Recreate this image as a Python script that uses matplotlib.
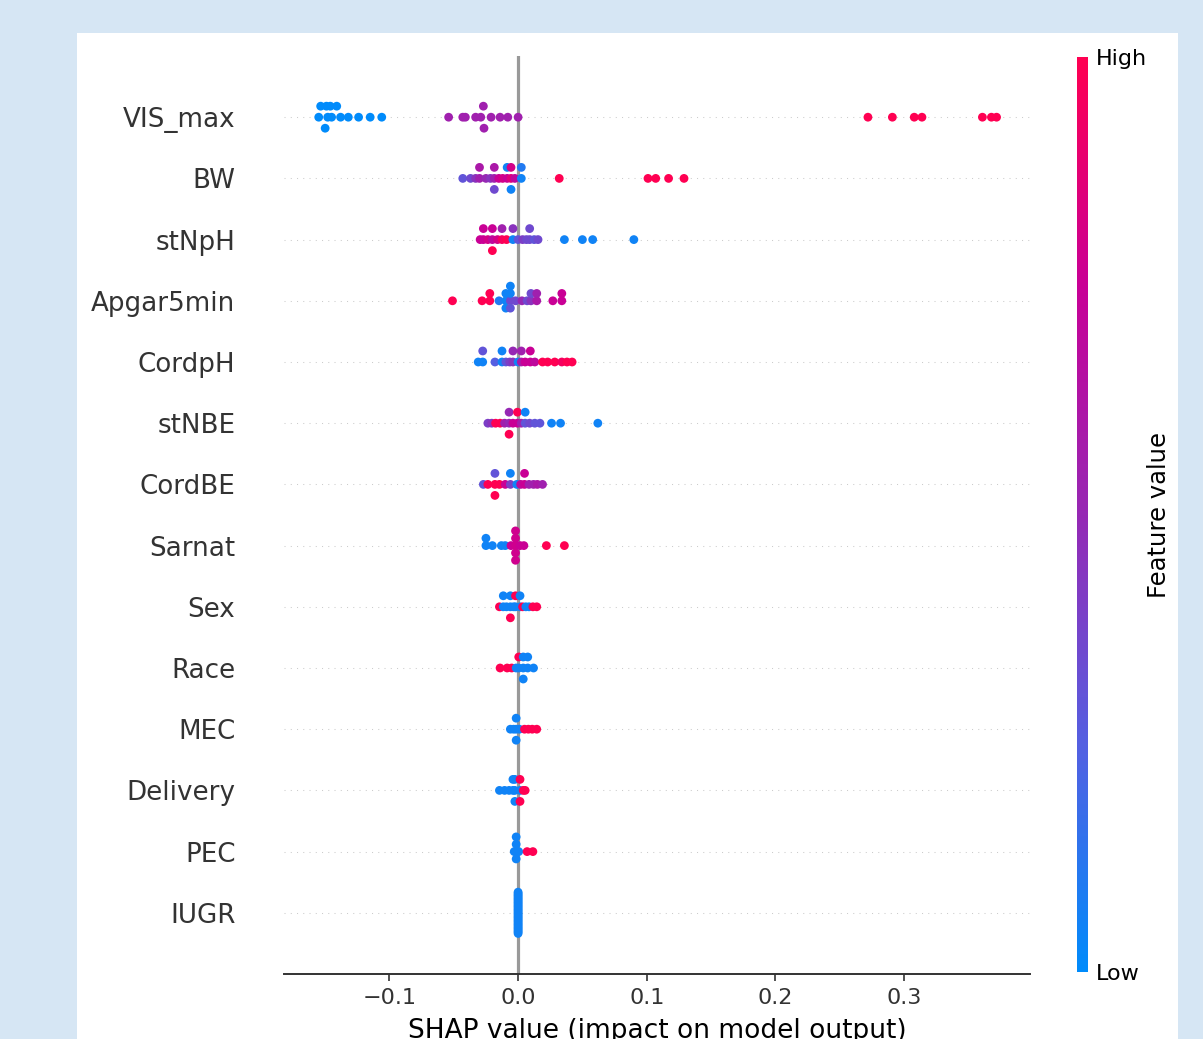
import numpy as np
import matplotlib
matplotlib.use("Agg")
import matplotlib.pyplot as plt
from matplotlib.colors import LinearSegmentedColormap, Normalize
from matplotlib.cm import ScalarMappable
from matplotlib.patches import Rectangle

# feature order, top to bottom
features = ["VIS_max", "BW", "stNpH", "Apgar5min", "CordpH", "stNBE", "CordBE",
            "Sarnat", "Sex", "Race", "MEC", "Delivery", "PEC", "IUGR"]

# SHAP values per sample and the (normalised) feature value used for colour
vis_max_shap = [-0.155, -0.1535, -0.148, -0.149, -0.150, -0.145, -0.146, -0.138, -0.141,
                -0.132, -0.124, -0.115, -0.106,
                -0.054, -0.043, -0.041, -0.033, -0.029, -0.027, -0.0265, -0.021, -0.014,
                -0.008, 0.0,
                0.272, 0.291, 0.308, 0.314, 0.361, 0.368, 0.372]
vis_max_val = [0.0] * 13 + [0.55] * 11 + [1.0] * 7

bw_shap = [-0.043, -0.037, -0.033, -0.030, -0.030, -0.025, -0.0215, -0.0185, -0.0185,
           -0.0185, -0.015, -0.012, -0.0085, -0.0085, -0.0055, -0.0055, -0.0055, -0.0025,
           0.0025, 0.0025, 0.032, 0.101, 0.107, 0.117, 0.129]
bw_val = [0.3, 0.35, 0.45, 0.55, 0.6, 0.5, 0.45, 0.55, 0.6,
          0.35, 0.75, 0.8, 0.75, 0.05, 0.85, 0.8, 0.05, 0.7,
          0.05, 0.1, 1.0, 1.0, 1.0, 1.0, 1.0]

stnph_shap = [-0.0295, -0.027, -0.027, -0.0235, -0.020, -0.020, -0.020, -0.016, -0.0125,
              -0.0125, -0.009, -0.004, -0.004, 0.0, 0.0035, 0.0065, 0.009, 0.009, 0.0125,
              0.0155, 0.036, 0.050, 0.058, 0.090]
stnph_val = [0.75, 0.75, 0.75, 0.8, 0.7, 0.75, 1.0, 0.8, 0.95,
             0.55, 1.0, 0.05, 0.45, 0.3, 0.4, 0.35, 0.35, 0.35, 0.3,
             0.35, 0.05, 0.05, 0.05, 0.05]

apgar_shap = [-0.051, -0.028, -0.022, -0.022, -0.0148, -0.0095, -0.0095, -0.0095, -0.006,
              -0.006, -0.006, -0.006, -0.002, 0.003, 0.007, 0.010, 0.010, 0.0145, 0.0145,
              0.027, 0.034, 0.034]
apgar_val = [1.0, 1.0, 1.0, 1.0, 0.1, 0.05, 0.05, 0.05, 0.35,
             0.05, 0.3, 0.05, 0.35, 0.5, 0.35, 0.45, 0.35, 0.6, 0.55,
             0.75, 0.75, 0.75]

cordph_shap = [-0.031, -0.0275, -0.0275, -0.018, -0.0125, -0.0125, -0.0095, -0.0065, -0.004,
               -0.004, 0.0, 0.0025, 0.0025, 0.0055, 0.0095, 0.0095, 0.013,
               0.019, 0.023, 0.0285, 0.034, 0.038, 0.042]
cordph_val = [0.05, 0.05, 0.3, 0.25, 0.05, 0.05, 0.3, 0.4, 0.45,
              0.5, 0.05, 0.6, 0.55, 0.75, 0.75, 0.75, 0.7,
              1.0, 1.0, 1.0, 0.95, 1.0, 1.0]

stnbe_shap = [-0.0235, -0.0205, -0.0175, -0.014, -0.0105, -0.007, -0.007, -0.007, -0.004,
              -0.0005, -0.0005, 0.0025, 0.0055, 0.0055, 0.009, 0.013, 0.017,
              0.026, 0.033, 0.062]
stnbe_val = [0.4, 0.45, 1.0, 1.0, 0.55, 0.5, 0.5, 1.0, 0.75,
             0.75, 1.0, 0.55, 0.3, 0.05, 0.35, 0.3, 0.3,
             0.05, 0.05, 0.05]

cordbe_shap = [-0.027, -0.0235, -0.018, -0.018, -0.018, -0.0145, -0.010, -0.006, -0.006,
               -0.001, 0.002, 0.005, 0.005, 0.0085, 0.012, 0.015, 0.019]
cordbe_val = [0.3, 1.0, 1.0, 0.3, 1.0, 1.0, 0.75, 0.4, 0.05,
              0.05, 0.7, 0.75, 0.75, 0.55, 0.55, 0.6, 0.55]

sarnat_shap = [-0.025, -0.025, -0.020, -0.013, -0.010, -0.0055, -0.002, -0.002, -0.002,
               -0.002, -0.002, 0.0015, 0.0045, 0.022, 0.036]
sarnat_val = [0.05, 0.05, 0.05, 0.05, 0.05, 0.75, 0.78, 0.78, 0.78,
              0.78, 0.78, 0.75, 0.75, 1.0, 1.0]

sex_shap = [-0.0145, -0.0115, -0.0115, -0.009, -0.006, -0.006, -0.006, -0.0035, -0.002,
            -0.002, 0.0015, 0.0015, 0.0035, 0.006, 0.0085, 0.0115, 0.0145]
sex_val = [1.0, 0.05, 0.05, 0.05, 0.05, 0.05, 1.0, 0.05, 0.05,
           1.0, 0.05, 0.05, 1.0, 0.05, 0.05, 1.0, 1.0]

race_shap = [-0.014, -0.0085, -0.005, -0.0015, 0.0005, 0.0005, 0.004, 0.004, 0.004,
             0.0075, 0.0075, 0.012]
race_val = [1.0, 1.0, 1.0, 0.05, 0.05, 1.0, 0.05, 0.05, 0.05,
            0.05, 0.05, 0.05]

mec_shap = [-0.006, -0.0035, -0.0015, -0.0015, -0.0015, 0.001, 0.005, 0.008, 0.011, 0.0145]
mec_val = [0.05, 0.05, 0.05, 0.05, 0.05, 0.05, 1.0, 1.0, 1.0, 1.0]

delivery_shap = [-0.0145, -0.0105, -0.007, -0.004, -0.004, -0.0025, -0.0025, -0.0025,
                 0.0015, 0.0015, 0.0015, 0.004, 0.0055]
delivery_val = [0.05, 0.05, 0.05, 0.05, 0.05, 0.05, 0.05, 0.05,
                0.05, 1.0, 1.0, 1.0, 1.0]

pec_shap = [-0.003, -0.0015, -0.0015, -0.0015, -0.0015, 0.0005, 0.007, 0.0115]
pec_val = [0.05, 0.05, 0.05, 0.05, 0.05, 0.05, 1.0, 1.0]

iugr_shap = [0.0, 0.0, 0.0, 0.0, 0.0, 0.0, 0.0, 0.0, 0.0, 0.0, 0.0, 0.0, 0.0, 0.0, 0.0, 0.0,
             0.0, 0.0, 0.0, 0.0, 0.0, 0.0, 0.0, 0.0, 0.0, 0.0, 0.0, 0.0, 0.0, 0.0, 0.0]
iugr_val = [0.05] * 31

rows = {
    "VIS_max": (vis_max_shap, vis_max_val),
    "BW": (bw_shap, bw_val),
    "stNpH": (stnph_shap, stnph_val),
    "Apgar5min": (apgar_shap, apgar_val),
    "CordpH": (cordph_shap, cordph_val),
    "stNBE": (stnbe_shap, stnbe_val),
    "CordBE": (cordbe_shap, cordbe_val),
    "Sarnat": (sarnat_shap, sarnat_val),
    "Sex": (sex_shap, sex_val),
    "Race": (race_shap, race_val),
    "MEC": (mec_shap, mec_val),
    "Delivery": (delivery_shap, delivery_val),
    "PEC": (pec_shap, pec_val),
    "IUGR": (iugr_shap, iugr_val),
}

xticks = [-0.1, 0.0, 0.1, 0.2, 0.3]

cmap = LinearSegmentedColormap.from_list(
    "red_blue", ["#008bfb", "#555fe1", "#9628b4", "#c80096", "#ff0052"])


def swarm_offsets(shaps, row_height=0.4, nbins=100):
    """Stack points that fall in the same bin, like shap's beeswarm."""
    shaps = np.asarray(shaps, dtype=float)
    quant = np.round(nbins * (shaps - shaps.min()) / (shaps.max() - shaps.min() + 1e-8))
    order = np.argsort(quant, kind="stable")
    layer = 0
    last_bin = -1
    ys = np.zeros(len(shaps))
    for ind in order:
        if quant[ind] != last_bin:
            layer = 0
        ys[ind] = np.ceil(layer / 2) * ((layer % 2) * 2 - 1)
        layer += 1
        last_bin = quant[ind]
    ys *= 0.9 * (row_height / np.max(ys + 1))
    return ys


fig = plt.figure(figsize=(12.03, 10.39), dpi=100)
fig.patch.set_facecolor("#d6e6f4")
fig.patches.append(Rectangle((77 / 1203, 0), 1101 / 1203, 1006 / 1039,
                             transform=fig.transFigure, facecolor="white",
                             edgecolor="none", zorder=-10))

ax = fig.add_axes([284 / 1203, 1 - 974 / 1039, 746 / 1203, 918 / 1039])
ax.set_facecolor("none")

n = len(features)
for i, name in enumerate(features):
    pos = n - 1 - i
    shaps, vals = rows[name]
    ax.axhline(pos, color="#cccccc", lw=0.75, dashes=(1, 5), zorder=-1)
    ys = swarm_offsets(shaps)
    ax.scatter(shaps, pos + ys, c=vals, cmap=cmap, vmin=0, vmax=1, s=40,
               linewidth=0, zorder=3)

ax.axvline(0, color="#999999", lw=2.3, zorder=-1)

ax.set_xlim(-0.182, 0.398)
ax.set_ylim(-1, n)
ax.set_yticks(range(n))
ax.set_yticklabels(features[::-1])
ax.set_xticks(xticks)

for side in ["top", "right", "left"]:
    ax.spines[side].set_visible(False)
ax.spines["bottom"].set_color("#333333")
ax.spines["bottom"].set_linewidth(1.4)
ax.tick_params(axis="y", length=0, pad=35, labelsize=18.8, labelcolor="#333333")
ax.tick_params(axis="x", length=5, width=1.2, color="#333333", labelsize=16,
               labelcolor="#333333", pad=5)
ax.set_xlabel("SHAP value (impact on model output)", fontsize=19, labelpad=7)

cax = fig.add_axes([1077 / 1203, 1 - 972 / 1039, 11 / 1203, 915 / 1039])
cb = fig.colorbar(ScalarMappable(norm=Normalize(0, 1), cmap=cmap), cax=cax, ticks=[0, 1])
cb.set_ticklabels(["Low", "High"])
cb.outline.set_visible(False)
cax.tick_params(length=0, labelsize=16, pad=6)
cb.set_label("Feature value", size=17.5, labelpad=0)

fig.savefig("out.png", dpi=100)
